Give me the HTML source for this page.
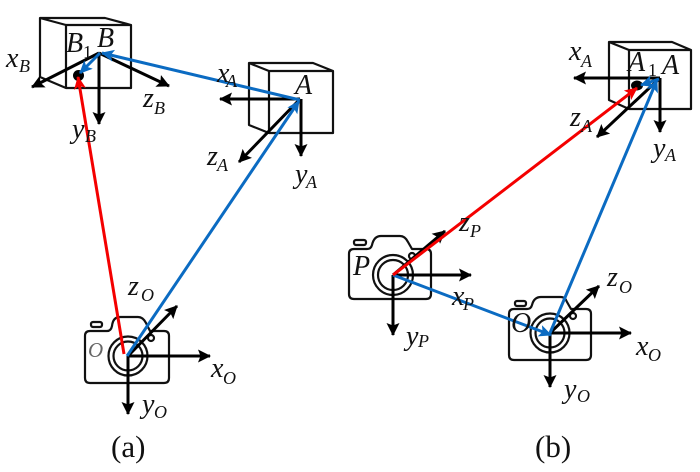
<!DOCTYPE html>
<html>
<head>
<meta charset="utf-8">
<style>
html,body{margin:0;padding:0;background:#fff;}
svg{display:block;}
text{font-family:"Liberation Serif",serif;fill:#111;}
.m{font-style:italic;font-size:28px;}
.s{font-style:italic;font-size:18px;}
.n{font-size:18px;}
.t{font-size:31px;}
.k{stroke:#000;stroke-width:3;fill:none;}
.b{stroke:#0b6bc2;stroke-width:3;fill:none;}
.r{stroke:#f40000;stroke-width:3;fill:none;}
.c{stroke:#111;stroke-width:2.2;fill:none;stroke-linejoin:round;}
</style>
</head>
<body>
<svg width="700" height="472" viewBox="0 0 700 472" xmlns="http://www.w3.org/2000/svg">
<defs>
<marker id="ak" markerUnits="userSpaceOnUse" markerWidth="16" markerHeight="14" refX="12" refY="6.5" orient="auto"><path d="M0 0L13 6.5L0 13L2.5 6.5Z" fill="#000"/></marker>
<marker id="ab" markerUnits="userSpaceOnUse" markerWidth="16" markerHeight="14" refX="12" refY="6" orient="auto"><path d="M0 0L13 6L0 12L3 6Z" fill="#0b6bc2"/></marker>
<marker id="ar" markerUnits="userSpaceOnUse" markerWidth="16" markerHeight="14" refX="12" refY="6" orient="auto"><path d="M0 0L13 6L0 12L3 6Z" fill="#f40000"/></marker>
</defs>

<!-- Cube B -->
<path class="c" d="M66 25H131V88H66ZM66 25L40 18H105L131 25M40 18V77L66 88"/>
<!-- Cube A left -->
<path class="c" d="M269 71H333V133H269ZM269 71L249 63H313L333 71M249 63V125L269 133"/>
<!-- Cube A right -->
<path class="c" d="M629 50H691V109H629ZM629 50L609 42H672L691 50M609 42V100L629 109"/>

<!-- Cameras -->
<g id="cameras">
<path class="c" d="M90 331H107Q111 331 112 326Q113 317 120 317H138Q143 317 146 323L150 331H164Q169 331 169 336V378Q169 383 164 383H90Q85 383 85 378V336Q85 331 90 331Z"/>
<rect class="c" x="91" y="322" width="11" height="5" rx="2"/>
<circle class="c" cx="128" cy="356" r="19.5"/><circle class="c" cx="128" cy="356" r="14.5"/>
<circle class="c" cx="151" cy="338" r="3"/>

<path class="c" d="M354 249H367Q371 249 372 245Q374 236 381 236H400Q405 236 408 242L412 249H426Q431 249 431 254V294Q431 299 426 299H354Q349 299 349 294V254Q349 249 354 249Z"/>
<rect class="c" x="354" y="240" width="12" height="5" rx="2"/>
<circle class="c" cx="393" cy="275" r="20"/><circle class="c" cx="393" cy="275" r="15"/>
<circle class="c" cx="412" cy="256" r="3"/>

<path class="c" d="M514 309H527Q531 309 532 305Q534 297 541 297H561Q565 297 567 302L571 309H586Q591 309 591 314V355Q591 360 586 360H514Q509 360 509 355V314Q509 309 514 309Z"/>
<rect class="c" x="515" y="301" width="11" height="5" rx="2"/>
<circle class="c" cx="550" cy="333" r="19.5"/><circle class="c" cx="550" cy="333" r="14.5"/>
<circle class="c" cx="573" cy="316" r="3"/>
</g>

<!-- Black axes -->
<g class="k">
<path d="M99 53L32 87" marker-end="url(#ak)"/>
<path d="M99 53L169 86" marker-end="url(#ak)"/>
<path d="M99 53V124" marker-end="url(#ak)"/>
<path d="M300 99H220" marker-end="url(#ak)"/>
<path d="M300 99L239 162" marker-end="url(#ak)"/>
<path d="M301 99V156" marker-end="url(#ak)"/>
<path d="M128 356H210" marker-end="url(#ak)"/>
<path d="M128 356V414" marker-end="url(#ak)"/>
<path d="M128 356L177 306" marker-end="url(#ak)"/>
<path d="M660 78H574" marker-end="url(#ak)"/>
<path d="M660 78V132" marker-end="url(#ak)"/>
<path d="M660 78L597 137" marker-end="url(#ak)"/>
<path d="M393 275H471" marker-end="url(#ak)"/>
<path d="M393 275V335" marker-end="url(#ak)"/>
<path d="M393 275L445 231" marker-end="url(#ak)"/>
<path d="M550 333H631" marker-end="url(#ak)"/>
<path d="M550 333V387" marker-end="url(#ak)"/>
<path d="M550 333L599 286" marker-end="url(#ak)"/>
</g>

<!-- Dots -->
<circle cx="78.500" cy="75.500" r="5.500" fill="#000"/>
<ellipse cx="637" cy="85.500" rx="6" ry="5" fill="#000"/>

<!-- Blue -->
<g class="b">
<path d="M127 356L299 101" marker-end="url(#ab)"/>
<path d="M300 100L102 53" marker-end="url(#ab)"/>
<path d="M100 53L80 73" marker-end="url(#ab)"/>
<path d="M393 275L551 335" marker-end="url(#ab)"/>
<path d="M550 333L657 80" marker-end="url(#ab)"/>
<path d="M659 79L641 85" marker-end="url(#ab)"/>
</g>
<!-- Red -->
<g class="r">
<path d="M124 354L78 77" marker-end="url(#ar)"/>
<path d="M393 275L637 88" marker-end="url(#ar)"/>
</g>

<!-- Labels left -->
<text class="m" x="66" y="52">B</text><text class="n" x="83" y="58">1</text>
<text class="m" x="97" y="47">B</text>
<text class="m" x="6" y="67">x</text><text class="s" x="19" y="72">B</text>
<text class="m" x="143" y="107">z</text><text class="s" x="154" y="114">B</text>
<text class="m" x="72" y="138">y</text><text class="s" x="85" y="142">B</text>
<text class="m" x="217" y="82">x</text><text class="s" x="226" y="87">A</text>
<text class="m" x="295" y="94">A</text>
<text class="m" x="207" y="165">z</text><text class="s" x="217" y="171">A</text>
<text class="m" x="295" y="183">y</text><text class="s" x="306" y="188">A</text>
<text class="m" x="128" y="295">z</text><text class="s" x="141" y="301">O</text>
<text class="m" x="211" y="377">x</text><text class="s" x="223" y="384">O</text>
<text class="m" x="142" y="413">y</text><text class="s" x="154" y="418">O</text>
<text x="88" y="357" style="font-style:italic;font-size:21px;fill:#666">O</text>
<text class="t" x="111" y="457">(a)</text>

<!-- Labels right -->
<text class="m" x="569" y="60">x</text><text class="s" x="581" y="67">A</text>
<text class="m" x="628" y="71">A</text><text class="n" x="648" y="76">1</text>
<text class="m" x="662" y="74">A</text>
<text class="m" x="570" y="126">z</text><text class="s" x="581" y="132">A</text>
<text class="m" x="653" y="157">y</text><text class="s" x="665" y="161">A</text>
<text class="m" x="353" y="275">P</text>
<text class="m" x="459" y="231">z</text><text class="s" x="470" y="237">P</text>
<text class="m" x="452" y="305">x</text><text class="s" x="463" y="310">P</text>
<text class="m" x="406" y="345">y</text><text class="s" x="418" y="347">P</text>
<text class="m" x="511" y="332">O</text>
<text class="m" x="607" y="286">z</text><text class="s" x="619" y="293">O</text>
<text class="m" x="636" y="355">x</text><text class="s" x="648" y="361">O</text>
<text class="m" x="564" y="398">y</text><text class="s" x="577" y="402">O</text>
<text class="t" x="535" y="457">(b)</text>
</svg>
</body>
</html>
